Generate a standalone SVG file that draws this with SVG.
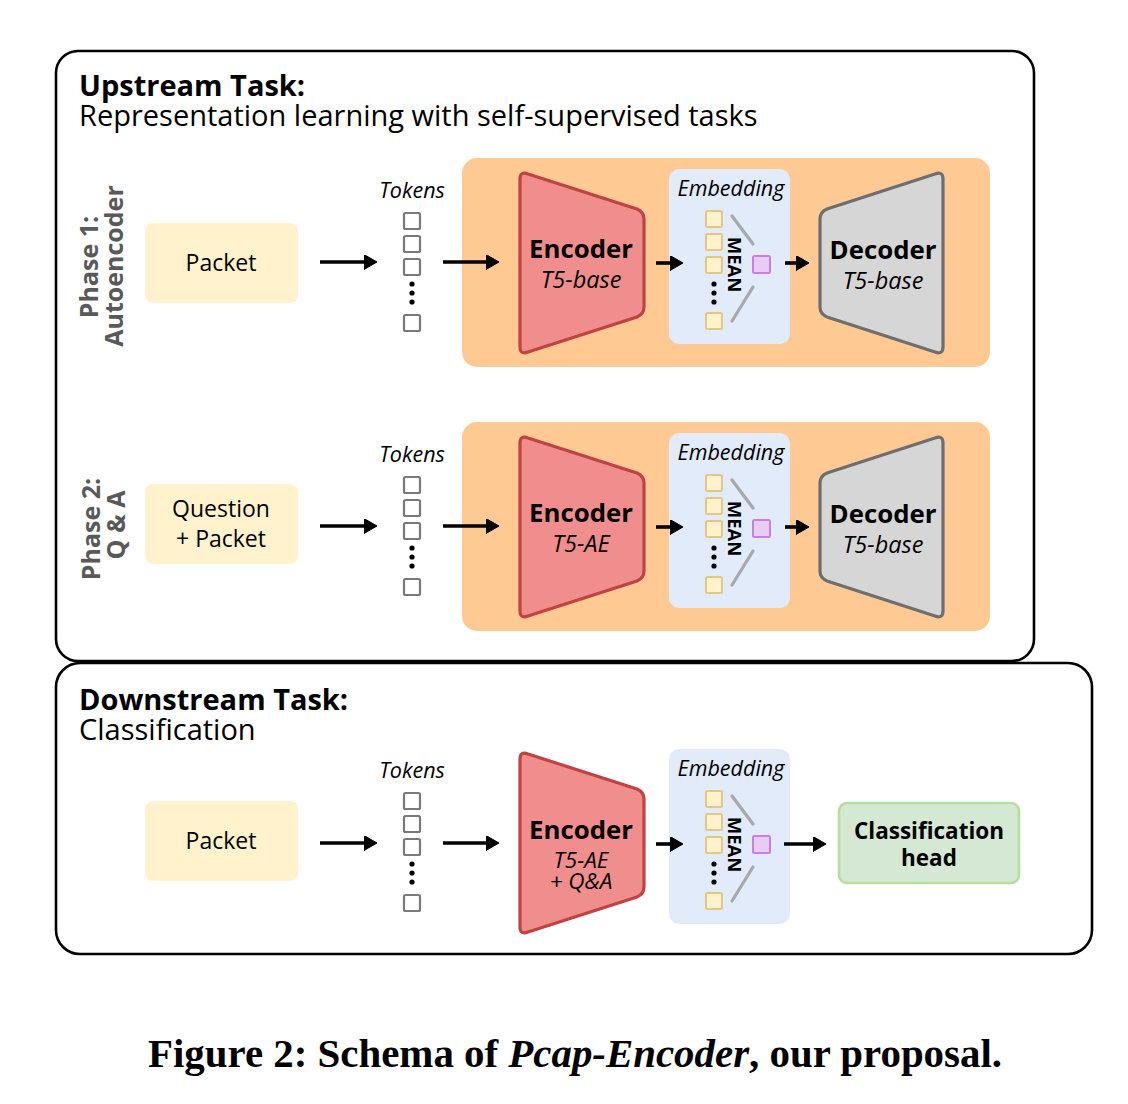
<svg xmlns="http://www.w3.org/2000/svg" width="1128" height="1104" viewBox="0 0 1128 1104">
<defs>
<style>
text{font-family:"Open Sans","Noto Sans","DejaVu Sans",sans-serif;fill:#000}
.frame{fill:none;stroke:#000;stroke-width:2.6}
.title{font-size:29px;font-weight:700}
.sub{font-size:29px}
.phase{font-size:25px;font-weight:700;fill:#595959}
.inbox{fill:#fff2cc;stroke:none}
.intext{font-size:23px;text-anchor:middle}
.tok{fill:#fff;stroke:#7a7a7a;stroke-width:2.2}
.dot{fill:#000}
.lbl{font-size:21.5px;font-style:italic;text-anchor:middle}
.bg{fill:#ffc993}
.enc{fill:#f08e8e;stroke:#c04242;stroke-width:3.2;stroke-linejoin:round}
.dec{fill:#d6d6d6;stroke:#6e6e6e;stroke-width:3.2;stroke-linejoin:round}
.big{font-size:25.8px;font-weight:700;text-anchor:middle}
.it{font-size:23.5px;font-style:italic;text-anchor:middle}
.emb{fill:#e1ebfa}
.esq{fill:#fff2cc;stroke:#e3c782;stroke-width:2}
.psq{fill:#e8cdf3;stroke:#cc7ddf;stroke-width:2}
.ml{stroke:#a8a8a8;stroke-width:3.2;stroke-linecap:round}
.mean{font-size:18.5px;font-weight:700;text-anchor:middle}
.cls{fill:#d5e8d4;stroke:#b5dea0;stroke-width:2.6}
.clst{font-size:22.5px;font-weight:700;text-anchor:middle}
.arr{stroke:#000;stroke-width:3.6;fill:none;marker-end:url(#ah)}
.cap{font-family:"Liberation Serif","Times New Roman",serif;font-size:40px;font-weight:700;text-anchor:middle}
</style>
<marker id="ah" markerUnits="userSpaceOnUse" viewBox="0 0 13 15" markerWidth="13" markerHeight="15" refX="5" refY="7.5" orient="auto">
<path d="M0,0 L13,7.5 L0,15 Z" fill="#000" stroke="#000" stroke-width="1" stroke-linejoin="round"/>
</marker>
<g id="tokset">
<rect class="tok" x="404" y="213" width="16" height="16" rx="1.5"/>
<rect class="tok" x="404" y="236" width="16" height="16" rx="1.5"/>
<rect class="tok" x="404" y="259" width="16" height="16" rx="1.5"/>
<circle class="dot" cx="412" cy="284" r="2.6"/>
<circle class="dot" cx="412" cy="293" r="2.6"/>
<circle class="dot" cx="412" cy="302" r="2.6"/>
<rect class="tok" x="404" y="315" width="16" height="16" rx="1.5"/>
<text class="lbl" x="412" y="198">Tokens</text>
</g>
<g id="embset">
<rect class="emb" x="669" y="169" width="121" height="175" rx="10"/>
<text class="lbl" x="731" y="196">Embedding</text>
<rect class="esq" x="706" y="211" width="16" height="16" rx="1.5"/>
<rect class="esq" x="706" y="234" width="16" height="16" rx="1.5"/>
<rect class="esq" x="706" y="257" width="16" height="16" rx="1.5"/>
<circle class="dot" cx="714" cy="284" r="2.6"/>
<circle class="dot" cx="714" cy="293" r="2.6"/>
<circle class="dot" cx="714" cy="302" r="2.6"/>
<rect class="esq" x="706" y="313" width="16" height="16" rx="1.5"/>
<line class="ml" x1="732" y1="216" x2="753" y2="244"/>
<line class="ml" x1="732" y1="321" x2="753" y2="287"/>
<text class="mean" transform="translate(728,264.5) rotate(90)">MEAN</text>
<rect class="psq" x="753" y="256" width="17" height="17" rx="1.5"/>
</g>
</defs>

<rect id="upstream-frame" class="frame" x="56" y="51" width="978" height="610" rx="22"/>
<rect id="downstream-frame" class="frame" x="56" y="663" width="1036" height="291" rx="24"/>

<g id="upstream-title">
<text class="title" x="79" y="96">Upstream Task:</text>
<text class="sub" x="79" y="126">Representation learning with self-supervised tasks</text>
</g>

<!-- Phase 1 -->
<g id="phase1-label">
<text class="phase" text-anchor="middle" transform="translate(98,267) rotate(-90)">Phase 1:</text>
<text class="phase" text-anchor="middle" transform="translate(123,266) rotate(-90)">Autoencoder</text>
</g>
<g id="p1-packet">
<rect class="inbox" x="145" y="223" width="153" height="80" rx="8"/>
<text class="intext" x="221" y="271">Packet</text>
</g>
<g id="p1-tokens"><use href="#tokset"/></g>
<g id="p1-model">
<rect class="bg" x="462" y="158" width="528" height="209" rx="15"/>
</g>
<g id="p1-encoder">
<path class="enc" d="M520,179 Q520,171 528,174 L637,209 Q644,212 644,219 L644,307 Q644,314 637,317 L528,352 Q520,355 520,347 Z"/>
<text class="big" x="581" y="258">Encoder</text>
<text class="it" x="581" y="288">T5-base</text>
</g>
<g id="p1-embedding"><use href="#embset"/></g>
<g id="p1-decoder">
<path class="dec" d="M943,179 Q943,171 935,174 L827,209 Q820,212 820,219 L820,307 Q820,314 827,317 L935,352 Q943,355 943,347 Z"/>
<text class="big" x="883" y="259">Decoder</text>
<text class="it" x="883" y="289">T5-base</text>
</g>

<!-- Phase 2 -->
<g id="phase2-label">
<text class="phase" text-anchor="middle" transform="translate(100,529) rotate(-90)">Phase 2:</text>
<text class="phase" text-anchor="middle" transform="translate(125,525) rotate(-90)">Q &amp; A</text>
</g>
<g id="p2-packet">
<rect class="inbox" x="145" y="484" width="153" height="80" rx="8"/>
<text class="intext" x="221" y="517">Question</text>
<text class="intext" x="221" y="547">+ Packet</text>
</g>
<g id="p2-tokens" transform="translate(0,264)"><use href="#tokset"/></g>
<g id="p2-model">
<rect class="bg" x="462" y="422" width="528" height="209" rx="15"/>
</g>
<g id="p2-encoder" transform="translate(0,264)">
<path class="enc" d="M520,179 Q520,171 528,174 L637,209 Q644,212 644,219 L644,307 Q644,314 637,317 L528,352 Q520,355 520,347 Z"/>
<text class="big" x="581" y="258">Encoder</text>
<text class="it" x="581" y="288">T5-AE</text>
</g>
<g id="p2-embedding" transform="translate(0,264)"><use href="#embset"/></g>
<g id="p2-decoder" transform="translate(0,264)">
<path class="dec" d="M943,179 Q943,171 935,174 L827,209 Q820,212 820,219 L820,307 Q820,314 827,317 L935,352 Q943,355 943,347 Z"/>
<text class="big" x="883" y="259">Decoder</text>
<text class="it" x="883" y="289">T5-base</text>
</g>

<!-- Downstream -->
<g id="downstream-title">
<text class="title" x="79" y="710">Downstream Task:</text>
<text class="sub" x="79" y="740">Classification</text>
</g>
<g id="d-packet">
<rect class="inbox" x="145" y="801" width="153" height="80" rx="8"/>
<text class="intext" x="221" y="849">Packet</text>
</g>
<g id="d-tokens" transform="translate(0,580)"><use href="#tokset"/></g>
<g id="d-encoder" transform="translate(0,580)">
<path class="enc" d="M520,179 Q520,171 528,174 L637,209 Q644,212 644,219 L644,307 Q644,314 637,317 L528,352 Q520,355 520,347 Z"/>
<text class="big" x="581" y="259">Encoder</text>
<text class="it" x="581" y="288" style="font-size:22.5px">T5-AE</text>
<text class="it" x="581" y="308.5" style="font-size:22.5px">+ Q&amp;A</text>
</g>
<g id="d-embedding" transform="translate(0,580)"><use href="#embset"/></g>
<g id="d-classifier">
<rect class="cls" x="839" y="803" width="180" height="80" rx="8"/>
<text class="clst" x="929" y="839">Classification</text>
<text class="clst" x="929" y="866">head</text>
</g>

<g id="connectors">
<line class="arr" x1="320" y1="262" x2="369" y2="262"/>
<line class="arr" x1="443" y1="262" x2="491" y2="262"/>
<line class="arr" x1="656" y1="263" x2="675" y2="263"/>
<line class="arr" x1="785" y1="263" x2="801" y2="263"/>
<line class="arr" x1="320" y1="526" x2="369" y2="526"/>
<line class="arr" x1="443" y1="526" x2="491" y2="526"/>
<line class="arr" x1="656" y1="527" x2="675" y2="527"/>
<line class="arr" x1="785" y1="527" x2="801" y2="527"/>
<line class="arr" x1="320" y1="843" x2="369" y2="843"/>
<line class="arr" x1="443" y1="843" x2="491" y2="843"/>
<line class="arr" x1="656" y1="844" x2="675" y2="844"/>
<line class="arr" x1="784" y1="844" x2="818" y2="844"/>
</g>

<text id="caption" class="cap" x="575" y="1067" textLength="854" lengthAdjust="spacingAndGlyphs">Figure 2: Schema of <tspan font-style="italic">Pcap-Encoder</tspan>, our proposal.</text>
</svg>
